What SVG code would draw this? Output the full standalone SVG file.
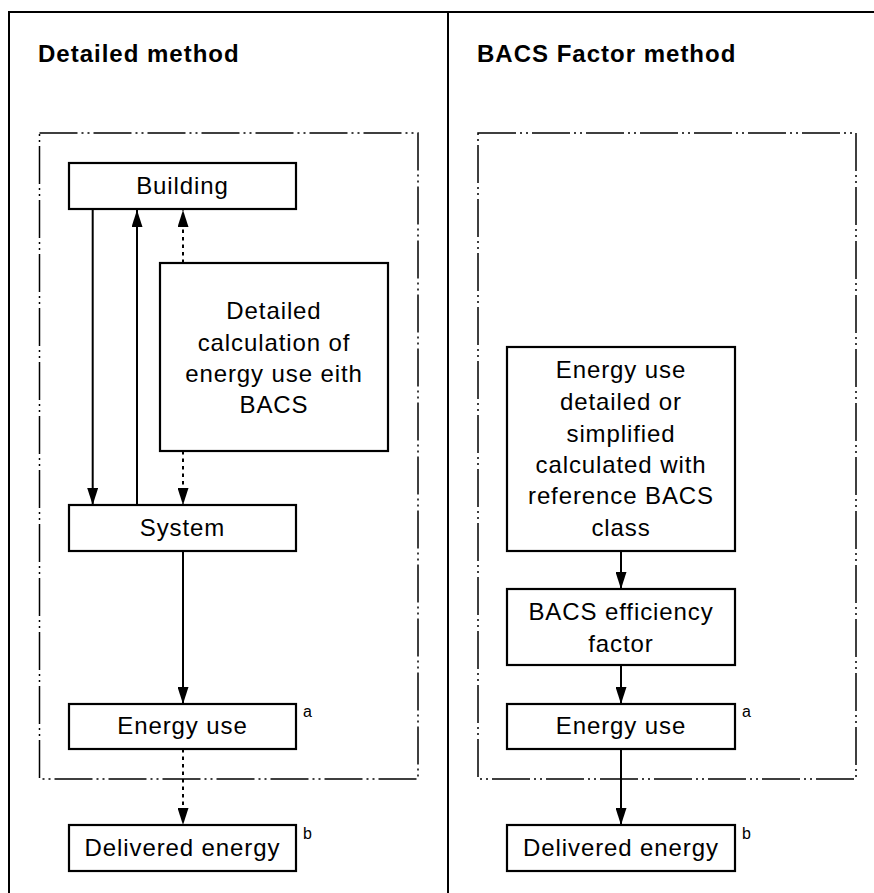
<svg xmlns="http://www.w3.org/2000/svg" width="874" height="893" viewBox="0 0 874 893">
<defs>
<style>
.frame{fill:none;stroke:#000;stroke-width:2}
.zone{fill:none;stroke:#000;stroke-width:1.5;stroke-dasharray:38 4 2 4 2 4}
.box{fill:#fff;stroke:#000;stroke-width:2.2}
.t{font-family:"Liberation Sans",Arial,sans-serif;font-size:24px;letter-spacing:0.9px;text-anchor:middle;fill:#000}
.title{font-family:"Liberation Sans",Arial,sans-serif;font-size:24px;font-weight:bold;letter-spacing:1px;fill:#000}
.sup{font-family:"Liberation Sans",Arial,sans-serif;font-size:16px;fill:#000}
.c{fill:none;stroke:#000;stroke-width:2}
.d{fill:none;stroke:#000;stroke-width:2;stroke-dasharray:3.5 4}
</style>
<marker id="ah" markerUnits="userSpaceOnUse" markerWidth="17" markerHeight="11" refX="17" refY="5.5" orient="auto" viewBox="0 0 17 11">
<path d="M0,0 L17,5.5 L0,11 z" fill="#000"/>
</marker>
</defs>
<rect width="874" height="893" fill="#fff"/>
<g id="frame">
<path class="frame" d="M9,893 V12 H874 M448,12 V893"/>
<text class="title" x="38" y="62">Detailed method</text>
<text class="title" x="477" y="62">BACS Factor method</text>
<rect class="zone" x="39.5" y="133" width="378.5" height="646"/>
<rect class="zone" x="478" y="133" width="378" height="646"/>
</g>
<g id="connectors">
<line class="c" x1="92.7" y1="210" x2="92.7" y2="505" marker-end="url(#ah)"/>
<line class="c" x1="137" y1="505" x2="137" y2="210" marker-end="url(#ah)"/>
<line class="d" x1="183" y1="263" x2="183" y2="210" marker-end="url(#ah)"/>
<line class="d" x1="183" y1="451" x2="183" y2="505" marker-end="url(#ah)"/>
<line class="c" x1="183" y1="551" x2="183" y2="704" marker-end="url(#ah)"/>
<line class="d" x1="183" y1="749" x2="183" y2="825" marker-end="url(#ah)"/>
<line class="c" x1="621" y1="551" x2="621" y2="589" marker-end="url(#ah)"/>
<line class="c" x1="621" y1="665" x2="621" y2="704" marker-end="url(#ah)"/>
<line class="c" x1="621" y1="749" x2="621" y2="825" marker-end="url(#ah)"/>
</g>
<g id="building">
<rect class="box" x="69" y="163" width="227" height="46"/>
<text class="t" x="182.5" y="194">Building</text>
</g>
<g id="detailed-calc">
<rect class="box" x="160" y="263" width="228" height="188"/>
<text class="t" x="274" y="319">Detailed</text>
<text class="t" x="274" y="351">calculation of</text>
<text class="t" x="274" y="382">energy use eith</text>
<text class="t" x="274" y="413">BACS</text>
</g>
<g id="system">
<rect class="box" x="69" y="505" width="227" height="46"/>
<text class="t" x="182.5" y="536">System</text>
</g>
<g id="energy-use-left">
<rect class="box" x="69" y="704" width="227" height="45"/>
<text class="t" x="182.5" y="734">Energy use</text>
<text class="sup" x="303" y="717">a</text>
</g>
<g id="delivered-left">
<rect class="box" x="69" y="825" width="227" height="46"/>
<text class="t" x="182.5" y="856">Delivered energy</text>
<text class="sup" x="303" y="839">b</text>
</g>
<g id="energy-use-ref">
<rect class="box" x="507" y="347" width="228" height="204"/>
<text class="t" x="621" y="378">Energy use</text>
<text class="t" x="621" y="410">detailed or</text>
<text class="t" x="621" y="442">simplified</text>
<text class="t" x="621" y="473">calculated with</text>
<text class="t" x="621" y="504">reference BACS</text>
<text class="t" x="621" y="536">class</text>
</g>
<g id="bacs-factor">
<rect class="box" x="507" y="589" width="228" height="76"/>
<text class="t" x="621" y="620">BACS efficiency</text>
<text class="t" x="621" y="652">factor</text>
</g>
<g id="energy-use-right">
<rect class="box" x="507" y="704" width="228" height="45"/>
<text class="t" x="621" y="734">Energy use</text>
<text class="sup" x="742" y="717">a</text>
</g>
<g id="delivered-right">
<rect class="box" x="507" y="825" width="228" height="46"/>
<text class="t" x="621" y="856">Delivered energy</text>
<text class="sup" x="742" y="839">b</text>
</g>
</svg>
